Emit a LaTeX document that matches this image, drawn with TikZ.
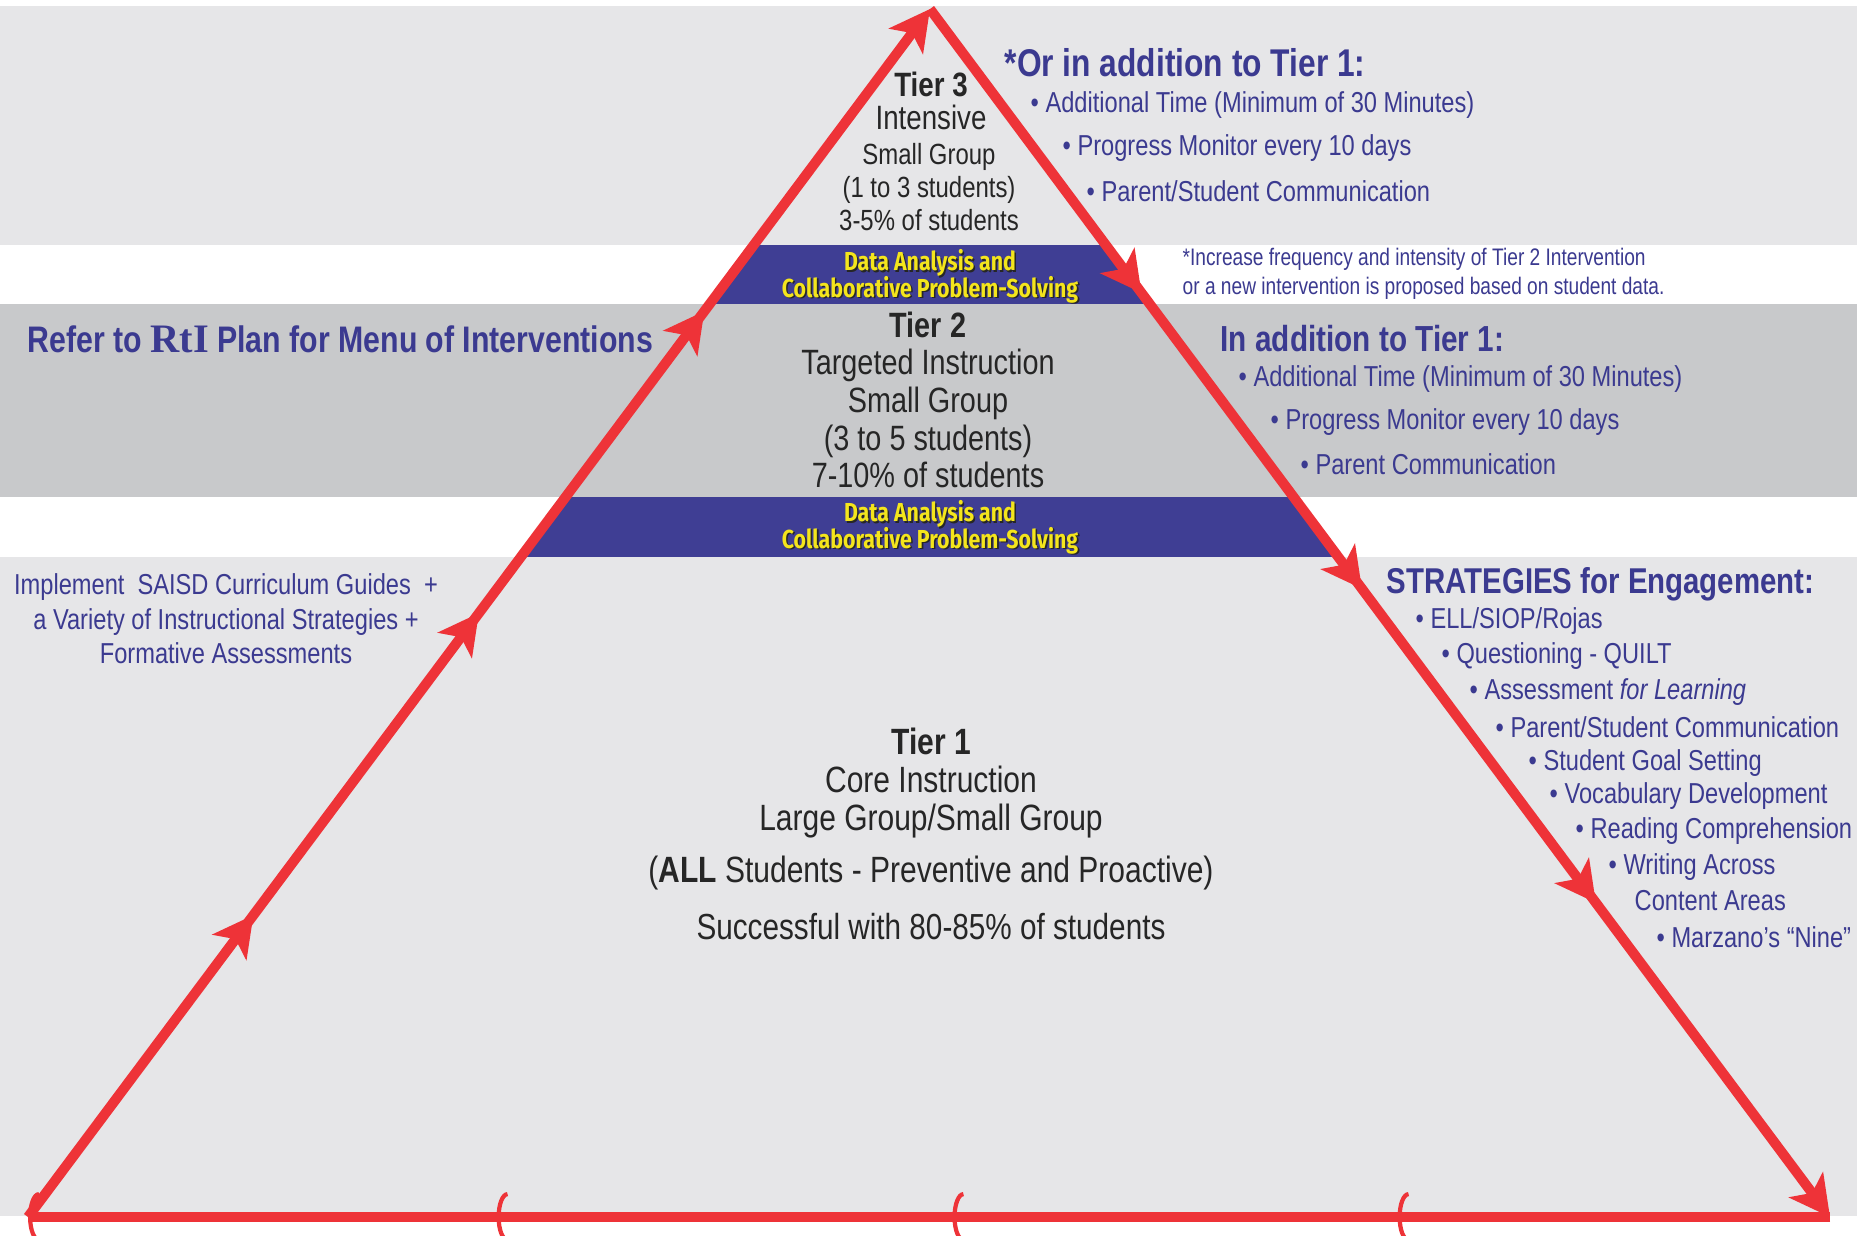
\documentclass[tikz,border=0pt]{standalone}
\usepackage{fontspec}
\setmainfont{Liberation Sans}[FakeStretch=0.82]
\newfontfamily\notefont{Liberation Sans}[FakeStretch=0.8]
\newfontfamily\rtifont{Liberation Serif}
\newfontfamily\bandfont{Fira Sans}[FakeStretch=0.82]
\usetikzlibrary{arrows.meta,decorations.markings}

\definecolor{rtired}{HTML}{EE3338}
\definecolor{bandlight}{HTML}{E6E6E8}
\definecolor{banddark}{HTML}{C8C9CB}
\definecolor{databand}{HTML}{3F3E94}
\definecolor{rtiblue}{HTML}{3B3A90}
\definecolor{tiertext}{HTML}{262626}
\definecolor{datayellow}{HTML}{F4E51C}

% yellow band text with a dark shadow
\newcommand{\bandline}[1]{\makebox[0pt][l]{\hspace{0.45pt}\raisebox{-0.45pt}{\textcolor{black!85}{#1}}}\textcolor{datayellow}{#1}}
\newcommand{\bandsize}{\fontsize{7.4}{7.5}\selectfont\lineskiplimit-5pt\relax}

\begin{document}
\begin{tikzpicture}[x=0.01cm, y=-0.01cm,
    txt/.style={inner sep=0pt, text=tiertext, align=center},
    note/.style={inner sep=0pt, text=rtiblue, anchor=west, font=\fontsize{8.2}{10}\selectfont},
    head/.style={inner sep=0pt, text=rtiblue, anchor=west},
    banded/.style={inner sep=0pt, align=center, font=\bandfont\bfseries\bandsize},
    redline/.style={draw=rtired, line width=2.85pt},
    sidehead/.tip={Stealth[length=0.4cm, width=0.42cm, inset=0.1cm]},
    basehead/.tip={Arc Barb[length=0.11cm, width=0.5cm, line width=1.2pt 0]}
]
    \useasboundingbox (0,0) rectangle (1857,1236);

    % Bands
    \fill[white] (0,0) rectangle (1857,1236);
    \fill[bandlight] (0,6) rectangle (1857,245);
    \fill[banddark] (0,304) rectangle (1857,497);
    \fill[bandlight] (0,557) rectangle (1857,1216);

    % Corners of the pyramid
    \coordinate (apex) at (930,9);
    \coordinate (bl) at (28,1217);
    \coordinate (br) at (1830,1217);

    % Data analysis bands inside the pyramid
    \begin{scope}
        \clip (bl) -- (apex) -- (br) -- cycle;
        \fill[databand] (0,245) rectangle (1857,304);
        \fill[databand] (0,497) rectangle (1857,557);
    \end{scope}

    % Red cycle
    \draw[redline, -{sidehead}, postaction={decorate}, decoration={markings,
        mark=at position 0.25 with {\arrow{sidehead}},
        mark=at position 0.5 with {\arrow{sidehead}},
        mark=at position 0.75 with {\arrow{sidehead}}}] (bl) -- (apex);
    \draw[redline, -{sidehead}, postaction={decorate}, decoration={markings,
        mark=at position 0.235 with {\arrow{sidehead}},
        mark=at position 0.48 with {\arrow{sidehead}},
        mark=at position 0.74 with {\arrow{sidehead}}}] (apex) -- (br);
    \draw[redline, -{basehead}, postaction={decorate}, decoration={markings,
        mark=at position 0.24 with {\arrow{basehead}},
        mark=at position 0.487 with {\arrow{basehead}},
        mark=at position 0.74 with {\arrow{basehead}}}] (br) -- (bl);

    % Tier 3
    \node[txt, font=\fontsize{9.6}{9.4}\selectfont] (tier3) at (931,101) {\textbf{Tier 3}\\Intensive};
    \node[txt, font=\fontsize{8.3}{9.4}\selectfont] (tier3size) at (929,187) {Small Group\\(1 to 3 students)\\3-5\% of students};
    \node[banded] (data3) at (930,277) {\bandline{Data Analysis and}\\\bandline{Collaborative Problem-Solving}};

    % Tier 2
    \node[txt, font=\fontsize{10}{10.7}\selectfont] (tier2) at (928,400) {\textbf{Tier 2}\\Targeted Instruction\\Small Group\\(3 to 5 students)\\7-10\% of students};
    \node[banded] (data2) at (930,528) {\bandline{Data Analysis and}\\\bandline{Collaborative Problem-Solving}};

    % Tier 1
    \node[txt, font=\fontsize{10.4}{10.8}\selectfont] (tier1) at (931,783) {\textbf{Tier 1}\\Core Instruction\\Large Group/Small Group};
    \node[txt, font=\fontsize{10.4}{12}\selectfont] (tier1all) at (931,873) {(\textbf{ALL} Students - Preventive and Proactive)};
    \node[txt, font=\fontsize{10.3}{12}\selectfont] (tier1rate) at (931,927) {Successful with 80-85\% of students};

    % Left side
    \node[head, font=\bfseries\fontsize{10.5}{12}\selectfont] (menu) at (27,339) {Refer to {\rtifont\bfseries\fontsize{11.5}{12}\selectfont RtI} Plan for Menu of Interventions};
    \node[txt, text=rtiblue, font=\fontsize{8.2}{9.8}\selectfont] (core) at (226,619) {Implement\ \ SAISD Curriculum Guides\ \ +\\a Variety of Instructional Strategies +\\Formative Assessments};

    % Right side, Tier 3
    \node[head, font=\bfseries\fontsize{11}{12}\selectfont] (t3head) at (1004,63) {*Or in addition to Tier 1:};
    \node[note] (t3time) at (1030,105) {\textbullet\ Additional Time (Minimum of 30 Minutes)};
    \node[note] (t3prog) at (1062,148) {\textbullet\ Progress Monitor every 10 days};
    \node[note] (t3comm) at (1086,191) {\textbullet\ Parent/Student Communication};
    \node[note, align=left, font=\notefont\fontsize{6.8}{8.25}\selectfont] (t3note) at (1182,274) {*Increase frequency and intensity of Tier 2 Intervention\\or a new intervention is proposed based on student data.};

    % Right side, Tier 2
    \node[head, font=\bfseries\fontsize{10.3}{12}\selectfont] (t2head) at (1220,339) {In addition to Tier 1:};
    \node[note] (t2time) at (1238,379) {\textbullet\ Additional Time (Minimum of 30 Minutes)};
    \node[note] (t2prog) at (1270,422) {\textbullet\ Progress Monitor every 10 days};
    \node[note] (t2comm) at (1300,464) {\textbullet\ Parent Communication};

    % Right side, Tier 1
    \node[head, font=\bfseries\fontsize{10.2}{12}\selectfont] (strat) at (1386,584) {STRATEGIES for Engagement:};
    \node[note] (s1) at (1415,621) {\textbullet\ ELL/SIOP/Rojas};
    \node[note] (s2) at (1441,656) {\textbullet\ Questioning - QUILT};
    \node[note] (s3) at (1469,692) {\textbullet\ Assessment \textit{for Learning}};
    \node[note] (s4) at (1495,727) {\textbullet\ Parent/Student Communication};
    \node[note] (s5) at (1528,763) {\textbullet\ Student Goal Setting};
    \node[note] (s6) at (1549,796) {\textbullet\ Vocabulary Development};
    \node[note] (s7) at (1575,831) {\textbullet\ Reading Comprehension};
    \node[note] (s8) at (1608,867) {\textbullet\ Writing Across};
    \node[note] (s8b) at (1634,901) {Content Areas};
    \node[note] (s9) at (1656,937) {\textbullet\ Marzano’s “Nine”};
\end{tikzpicture}
\end{document}
